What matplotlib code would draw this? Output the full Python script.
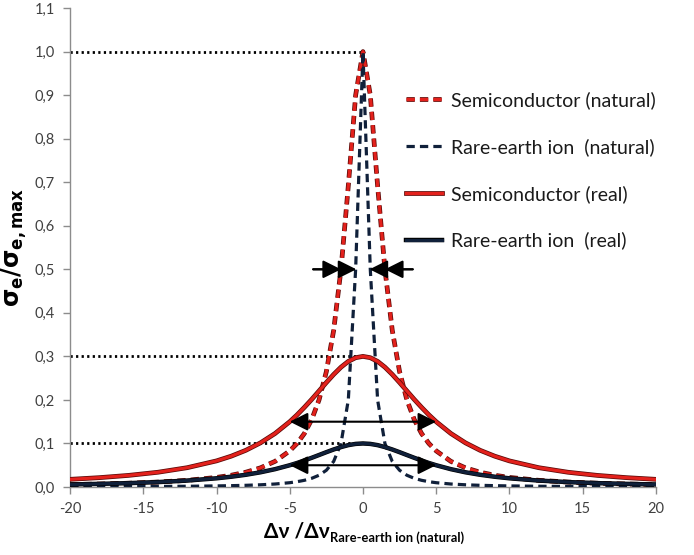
import matplotlib
matplotlib.use("Agg")
import matplotlib.pyplot as plt
import matplotlib.patheffects as pe

# data (normalised cross-section vs detuning)
x = [-20, -18, -16, -14, -12, -10, -9, -8, -7, -6, -5, -4.5, -4, -3.5, -3, -2.5, -2, -1.5, -1, -0.5,
     0, 0.5, 1, 1.5, 2, 2.5, 3, 3.5, 4, 4.5, 5, 6, 7, 8, 9, 10, 12, 14, 16, 18, 20]

semi_natural = [0.0056, 0.0069, 0.0087, 0.0114, 0.0154, 0.022, 0.027, 0.034, 0.044, 0.059, 0.083,
                0.100, 0.123, 0.155, 0.200, 0.265, 0.360, 0.500, 0.692, 0.900,
                1.000, 0.900, 0.692, 0.500, 0.360, 0.265, 0.200, 0.155, 0.123, 0.100,
                0.083, 0.059, 0.044, 0.034, 0.027, 0.022, 0.0154, 0.0114, 0.0087, 0.0069, 0.0056]

rare_natural = [0.0006, 0.0008, 0.0010, 0.0013, 0.0017, 0.0025, 0.0031, 0.0039, 0.0051, 0.0069, 0.0099,
                0.0122, 0.0154, 0.0200, 0.027, 0.0385, 0.0588, 0.100, 0.200, 0.500,
                1.000, 0.500, 0.200, 0.100, 0.0588, 0.0385, 0.027, 0.0200, 0.0154, 0.0122,
                0.0099, 0.0069, 0.0051, 0.0039, 0.0031, 0.0025, 0.0017, 0.0013, 0.0010, 0.0008, 0.0006]

semi_real = [0.0176, 0.0215, 0.0267, 0.0339, 0.0444, 0.060, 0.0708, 0.0843, 0.1014, 0.123, 0.150,
             0.1657, 0.183, 0.2013, 0.2206, 0.240, 0.2586, 0.2752, 0.2885, 0.297,
             0.300, 0.297, 0.2885, 0.2752, 0.2586, 0.240, 0.2206, 0.2013, 0.183, 0.1657,
             0.150, 0.123, 0.1014, 0.0843, 0.0708, 0.060, 0.0444, 0.0339, 0.0267, 0.0215, 0.0176]

rare_real = [0.0059, 0.0072, 0.0089, 0.0113, 0.0148, 0.020, 0.0236, 0.0281, 0.0338, 0.041, 0.050,
             0.0552, 0.061, 0.0671, 0.0735, 0.080, 0.0862, 0.0917, 0.0962, 0.099,
             0.100, 0.099, 0.0962, 0.0917, 0.0862, 0.080, 0.0735, 0.0671, 0.061, 0.0552,
             0.050, 0.041, 0.0338, 0.0281, 0.0236, 0.020, 0.0148, 0.0113, 0.0089, 0.0072, 0.0059]

labels = ["Semiconductor (natural)", "Rare-earth ion  (natural)",
          "Semiconductor (real)", "Rare-earth ion  (real)"]

peak_levels = [1.0, 0.3, 0.1]
xticks = [-20, -15, -10, -5, 0, 5, 10, 15, 20]
yticks = [0.0, 0.1, 0.2, 0.3, 0.4, 0.5, 0.6, 0.7, 0.8, 0.9, 1.0, 1.1]

RED = "#e3211c"
NAVY = "#10203a"

plt.rcParams['font.family'] = ['Lato', 'DejaVu Sans']

fig = plt.figure(figsize=(6.94, 5.55), dpi=100)
ax = fig.add_axes([0.101, 0.1225, 0.844, 0.863])

edge_red = [pe.Stroke(linewidth=3.4, foreground="#5a0a08"), pe.Normal()]
edge_navy = [pe.Stroke(linewidth=3.2, foreground="#000000"), pe.Normal()]

# dotted guides at the peak levels
for lv in peak_levels:
    ax.plot([-20, 0], [lv, lv], color="black", lw=2.0, ls=(0, (0.8, 1.2)), zorder=2)

ax.plot(x, semi_natural, color=RED, lw=2.3, ls=(0, (2.6, 1.6)), label=labels[0],
        path_effects=edge_red, zorder=3)
ax.plot(x, rare_natural, color=NAVY, lw=2.3, ls=(0, (2.6, 1.6)), label=labels[1], zorder=3)
ax.plot(x, semi_real, color=RED, lw=2.3, label=labels[2], path_effects=edge_red, zorder=4)
ax.plot(x, rare_real, color=NAVY, lw=2.3, label=labels[3], path_effects=edge_navy, zorder=4)

# linewidth arrows
arw = dict(color="black", lw=1.5, shrinkA=0, shrinkB=0, mutation_scale=22)
both = "<|-|>,head_length=0.5,head_width=0.25"
one = "-|>,head_length=0.5,head_width=0.25"
ax.annotate("", xy=(5, 0.15), xytext=(-5, 0.15), arrowprops=dict(arrowstyle=both, **arw), zorder=5)
ax.annotate("", xy=(5, 0.05), xytext=(-5, 0.05), arrowprops=dict(arrowstyle=both, **arw), zorder=5)
ax.annotate("", xy=(-0.45, 0.5), xytext=(-3.4, 0.5), arrowprops=dict(arrowstyle=one, **arw), zorder=5)
ax.annotate("", xy=(-1.5, 0.5), xytext=(-3.4, 0.5), arrowprops=dict(arrowstyle=one, **arw), zorder=5)
ax.annotate("", xy=(0.45, 0.5), xytext=(3.4, 0.5), arrowprops=dict(arrowstyle=one, **arw), zorder=5)
ax.annotate("", xy=(1.5, 0.5), xytext=(3.4, 0.5), arrowprops=dict(arrowstyle=one, **arw), zorder=5)

ax.set_xlim(-20, 20)
ax.set_ylim(0, 1.1)
ax.set_xticks(xticks)
ax.set_xticklabels(["%d" % t for t in xticks])
ax.set_yticks(yticks)
ax.set_yticklabels([("%.1f" % t).replace(".", ",") for t in yticks])

for s in ["top", "right"]:
    ax.spines[s].set_visible(False)
for s in ["left", "bottom"]:
    ax.spines[s].set_color("#8c8c8c")
    ax.spines[s].set_linewidth(1.0)
ax.tick_params(axis="both", direction="out", length=5, width=1, color="#8c8c8c",
               labelsize=10.5, labelcolor="#404040", pad=6)

ax.set_ylabel(r"$\mathbf{\sigma_e/\sigma_{e,max}}$", fontsize=17, labelpad=4)

# x label: big main part plus a small bold subscript placed right after it
main = fig.text(264 / 694, 1 - 537 / 555, "\u0394\u03bd /\u0394\u03bd", fontsize=15,
                fontweight="bold", ha="left", va="baseline")
fig.canvas.draw()
bb = main.get_window_extent()
fig.text(bb.x1 / fig.bbox.width + 0.001, 1 - 542 / 555, "Rare-earth ion (natural)",
         fontsize=9.3, fontweight="bold", ha="left", va="baseline")

leg = ax.legend(loc="upper left", bbox_to_anchor=(0.56, 0.843), frameon=False, fontsize=14,
                handlelength=1.85, handletextpad=0.46, labelspacing=1.49, borderaxespad=0)
for t in leg.get_texts():
    t.set_color("#1a1a1a")

fig.savefig("out.png", dpi=100)
